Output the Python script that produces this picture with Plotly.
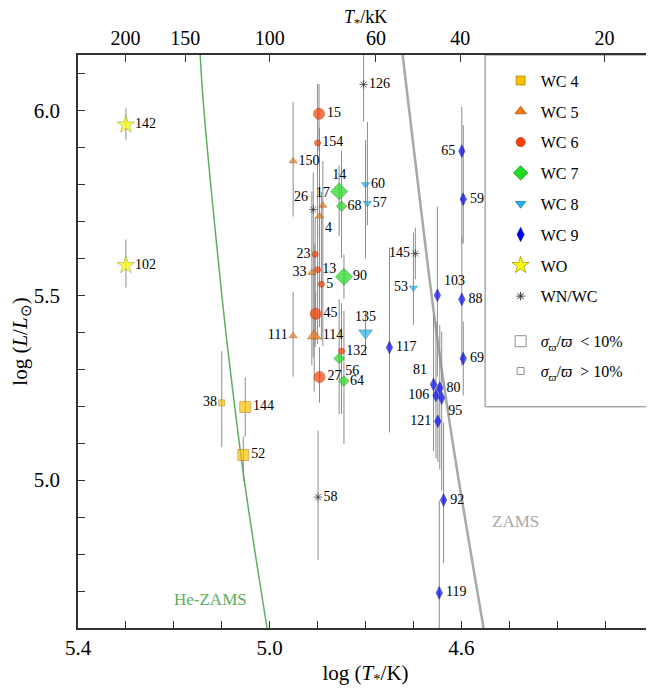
import math
import plotly.graph_objects as go

FONT = "Liberation Serif, Times New Roman, serif"

# ---- data: star id, log T*, log L, +/- error on log L, precise parallax (1) ----
wc4_ids = ["38", "144", "52"]
wc4_logT = [5.100, 5.051, 5.055]
wc4_logL = [5.209, 5.198, 5.068]
wc4_errp = [0.14, 0.08, 0.05]
wc4_errm = [0.12, 0.08, 0.07]
wc4_good = [0, 1, 1]

wc5_ids = ["150", "17", "4", "33", "111", "114"]
wc5_logT = [4.951, 4.889, 4.896, 4.912, 4.951, 4.907]
wc5_logL = [5.863, 5.743, 5.714, 5.561, 5.390, 5.390]
wc5_errp = [0.16, 0.12, 0.24, 0.22, 0.12, 0.25]
wc5_errm = [0.15, 0.38, 0.30, 0.25, 0.11, 0.15]
wc5_good = [0, 0, 0, 0, 0, 1]

wc6_ids = ["15", "154", "23", "13", "5", "45", "132", "27"]
wc6_logT = [4.897, 4.900, 4.905, 4.900, 4.892, 4.904, 4.850, 4.896]
wc6_logL = [5.991, 5.912, 5.611, 5.569, 5.530, 5.450, 5.349, 5.279]
wc6_errp = [0.08, 0.16, 0.10, 0.12, 0.25, 0.06, 0.13, 0.08]
wc6_errm = [0.10, 0.25, 0.25, 0.20, 0.15, 0.07, 0.17, 0.07]
wc6_good = [1, 0, 0, 0, 0, 1, 0, 1]

wc7_ids = ["14", "68", "90", "56", "64"]
wc7_logT = [4.855, 4.850, 4.845, 4.855, 4.845]
wc7_logL = [5.781, 5.741, 5.550, 5.329, 5.268]
wc7_errp = [0.07, 0.15, 0.06, 0.16, 0.19]
wc7_errm = [0.12, 0.14, 0.06, 0.15, 0.17]
wc7_good = [1, 0, 1, 0, 0]

wc8_ids = ["60", "57", "53", "135"]
wc8_logT = [4.800, 4.796, 4.700, 4.800]
wc8_logL = [5.800, 5.749, 5.520, 5.398]
wc8_errp = [0.12, 0.22, 0.15, 0.06]
wc8_errm = [0.20, 0.06, 0.10, 0.06]
wc8_good = [0, 0, 0, 1]

wc9_ids = ["65", "59", "103", "88", "117", "69", "81", "80", "106", "95", "121", "92", "119"]
wc9_logT = [4.599, 4.596, 4.650, 4.599, 4.750, 4.596, 4.658, 4.645, 4.653, 4.641, 4.649, 4.637, 4.646]
wc9_logL = [5.890, 5.760, 5.500, 5.489, 5.359, 5.329, 5.259, 5.249, 5.229, 5.222, 5.159, 4.946, 4.695]
wc9_errp = [0.12, 0.20, 0.24, 0.17, 0.27, 0.10, 0.19, 0.17, 0.20, 0.18, 0.10, 0.21, 0.25]
wc9_errm = [0.25, 0.12, 0.22, 0.18, 0.23, 0.10, 0.18, 0.22, 0.17, 0.25, 0.11, 0.17, 0.12]
wc9_good = [0] * 13

wo_ids = ["142", "102"]
wo_logT = [5.300, 5.300]
wo_logL = [5.961, 5.581]
wo_errp = [0.045, 0.07]
wo_errm = [0.04, 0.06]
wo_good = [1, 1]

wnwc_ids = ["126", "26", "145", "58"]
wnwc_logT = [4.804, 4.909, 4.696, 4.899]
wnwc_logL = [6.070, 5.732, 5.613, 4.954]
wnwc_errp = [0.15, 0.10, 0.07, 0.18]
wnwc_errm = [0.10, 0.40, 0.07, 0.17]
wnwc_good = [0, 0, 0, 0]

# ZAMS tracks (log T*, log L)
he_zams_logT = [5.147, 5.139, 5.099, 5.087, 5.053, 5.003]
he_zams_logL = [6.20, 6.03, 5.49, 5.35, 5.00, 4.58]
zams_logT = [4.727, 4.706, 4.655, 4.619, 4.551]
zams_logL = [6.20, 5.97, 5.43, 5.11, 4.58]

# top axis temperatures in kK
top_T_kK = [200, 150, 100, 60, 40, 20]

# label placement (default: right of marker)
label_pos = {
    "38": "middle left", "17": "top center", "4": "bottom right", "33": "middle left",
    "111": "middle left", "23": "middle left", "14": "top center", "56": "bottom right",
    "53": "middle left", "135": "top center", "65": "middle left", "103": "top right",
    "81": "top left", "106": "middle left", "95": "bottom right", "121": "middle left",
    "26": "top left", "145": "middle left",
}

classes = [
    dict(name="WC 4", ids=wc4_ids, x=wc4_logT, y=wc4_logL, ep=wc4_errp, em=wc4_errm, good=wc4_good,
         symbol="square", color="#FFC000", edge="#A07800", sizes=(11, 6), lsize=9),
    dict(name="WC 5", ids=wc5_ids, x=wc5_logT, y=wc5_logL, ep=wc5_errp, em=wc5_errm, good=wc5_good,
         symbol="triangle-up", color="#F27A12", edge="#A04800", sizes=(12, 7), lsize=10),
    dict(name="WC 6", ids=wc6_ids, x=wc6_logT, y=wc6_logL, ep=wc6_errp, em=wc6_errm, good=wc6_good,
         symbol="circle", color="#FF3F00", edge="#B02800", sizes=(11, 6), lsize=9),
    dict(name="WC 7", ids=wc7_ids, x=wc7_logT, y=wc7_logL, ep=wc7_errp, em=wc7_errm, good=wc7_good,
         symbol="diamond", color="#1EDC1E", edge="#108010", sizes=(13, 8), lsize=11),
    dict(name="WC 8", ids=wc8_ids, x=wc8_logT, y=wc8_logL, ep=wc8_errp, em=wc8_errm, good=wc8_good,
         symbol="triangle-down", color="#1EB4F0", edge="#1070A0", sizes=(12, 7), lsize=9),
    dict(name="WC 9", ids=wc9_ids, x=wc9_logT, y=wc9_logL, ep=wc9_errp, em=wc9_errm, good=wc9_good,
         symbol="diamond-tall", color="#0000FF", edge="#0000A0", sizes=(9, 9), lsize=10),
    dict(name="WO", ids=wo_ids, x=wo_logT, y=wo_logL, ep=wo_errp, em=wo_errm, good=wo_good,
         symbol="star", color="#FFFF00", edge="#909000", sizes=(13, 13), lsize=13),
    dict(name="WN/WC", ids=wnwc_ids, x=wnwc_logT, y=wnwc_logL, ep=wnwc_errp, em=wnwc_errm, good=wnwc_good,
         symbol="asterisk-open", color="#333333", edge="#333333", sizes=(7, 7), lsize=7),
]

fig = go.Figure()

# tracks
fig.add_trace(go.Scatter(x=he_zams_logT, y=he_zams_logL, mode="lines", line=dict(color="#5CB05C", width=1.5, shape="spline"),
                         showlegend=False, hoverinfo="skip"))
fig.add_trace(go.Scatter(x=zams_logT, y=zams_logL, mode="lines", line=dict(color="#A8A8A8", width=2.5, shape="spline"),
                         showlegend=False, hoverinfo="skip"))

# error bars first, so markers sit on top
for c in classes:
    fig.add_trace(go.Scatter(
        x=c["x"], y=c["y"], mode="markers", marker=dict(size=1, opacity=0),
        error_y=dict(type="data", array=c["ep"], arrayminus=c["em"], color="#8C8C8C", thickness=1, width=0),
        showlegend=False, hoverinfo="skip"))

for c in classes:
    big, small = c["sizes"]
    sizes = [big if g else small for g in c["good"]]
    asterisk = c["symbol"].startswith("asterisk")
    mline = dict(color=c["edge"], width=1 if asterisk else 0.7)
    fig.add_trace(go.Scatter(
        x=c["x"], y=c["y"], mode="markers+text", text=c["ids"],
        textposition=[label_pos.get(i, "middle right") for i in c["ids"]],
        textfont=dict(family=FONT, size=14, color="black"),
        marker=dict(symbol=c["symbol"], size=sizes, color=c["color"], line=mline),
        name=c["name"], showlegend=False, cliponaxis=False,
        hovertemplate="%{text}: log T=%{x:.2f}, log L=%{y:.2f}<extra></extra>"))
    # legend entry
    fig.add_trace(go.Scatter(
        x=[None], y=[None], mode="markers", name=c["name"], legend="legend", legendgroup=c["name"],
        marker=dict(symbol=c["symbol"], size=c["lsize"], color=c["color"], line=mline)))

for name, size in [("<i>σ</i><sub><i>ϖ</i></sub>/<i>ϖ</i>  < 10%", 11), ("<i>σ</i><sub><i>ϖ</i></sub>/<i>ϖ</i>  > 10%", 7)]:
    fig.add_trace(go.Scatter(
        x=[None], y=[None], mode="markers", name=name, legend="legend2", legendgroup=name,
        marker=dict(symbol="square-open", size=size, color="#909090", line=dict(width=1))))

# invisible trace to hold the top axis
fig.add_trace(go.Scatter(x=[5.0], y=[5.0], xaxis="x2", mode="markers", marker=dict(opacity=0),
                         showlegend=False, hoverinfo="skip"))

fig.add_annotation(x=5.124, y=4.676, text="He-ZAMS", showarrow=False,
                   font=dict(family=FONT, size=17, color="#5CB05C"))
fig.add_annotation(x=4.488, y=4.889, text="ZAMS", showarrow=False,
                   font=dict(family=FONT, size=17, color="#A8A8A8"))
# top axis title (kept as annotation so it sits above the tick labels)
fig.add_annotation(x=0.5, y=1.064, xref="paper", yref="paper", yanchor="middle",
                   text="<i>T</i><sub>*</sub>/kK", showarrow=False, font=dict(family=FONT, size=18, color="black"))

# legend frame
fig.add_shape(type="rect", xref="paper", yref="paper", x0=0.708, x1=1.0, y0=0.386, y1=1.0,
              line=dict(color="#808080", width=1), layer="below")

axis_common = dict(ticks="inside", ticklen=7, tickwidth=1.2, tickcolor="#333", automargin=False,
                   showline=True, linecolor="#333", linewidth=1.5, showgrid=False, zeroline=False,
                   tickfont=dict(family=FONT, size=21, color="black"))

# the page body adds an 8px offset, so the figure is sized to fit the window
fig.update_layout(
    width=646, height=685,
    margin=dict(l=70, r=1, t=47, b=65),
    paper_bgcolor="white", plot_bgcolor="white",
    font=dict(family=FONT, size=20, color="black"),
    xaxis=dict(range=[5.4, 4.2], tick0=4.2, dtick=0.4, tickformat=".1f", mirror=True, ticklabelstandoff=0,
               minor=dict(dtick=0.1, tick0=4.2, ticks="inside", ticklen=7, tickcolor="#333"),
               title=dict(text="log (<i>T</i><sub>*</sub>/K)", font=dict(family=FONT, size=21), standoff=6),
               **axis_common),
    xaxis2=dict(range=[5.4, 4.2], overlaying="x", side="top", ticklabelstandoff=0,
                tickvals=[math.log10(t * 1000) for t in top_T_kK], ticktext=[str(t) for t in top_T_kK],
                **{**axis_common, "tickfont": dict(family=FONT, size=20, color="black")}),
    yaxis=dict(range=[4.6, 6.15], tick0=5.0, dtick=0.5, tickformat=".1f", mirror="ticks", ticklabelstandoff=12,
               minor=dict(dtick=0.1, tick0=5.0, ticks="inside", ticklen=7, tickcolor="#333"),
               title=dict(text="log (<i>L</i>/<i>L</i><sub>⊙</sub>)", font=dict(family=FONT, size=21), standoff=6),
               **axis_common),
    legend=dict(x=0.735, y=0.985, xanchor="left", yanchor="top", bgcolor="rgba(0,0,0,0)",
                borderwidth=0, font=dict(family=FONT, size=16), tracegroupgap=7),
    legend2=dict(x=0.735, y=0.53, xanchor="left", yanchor="top", bgcolor="rgba(0,0,0,0)",
                 borderwidth=0, font=dict(family=FONT, size=16), tracegroupgap=6),
)

fig.write_html("out.html")
